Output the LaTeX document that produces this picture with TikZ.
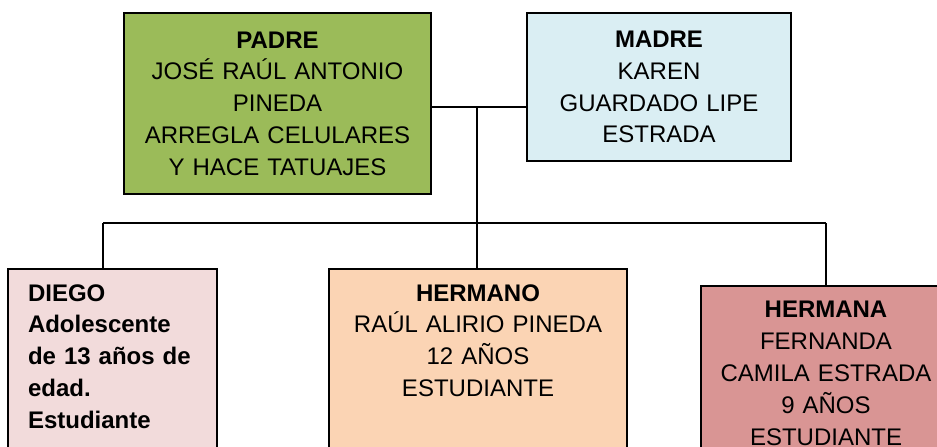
\documentclass[tikz,border=0pt]{standalone}
\usepackage{fontspec}
\setmainfont{Liberation Sans}
\usetikzlibrary{positioning}
\definecolor{verdepadre}{HTML}{9BBB59}
\definecolor{azulmadre}{HTML}{DAEEF3}
\definecolor{rosadiego}{HTML}{F2DBDB}
\definecolor{melocoton}{HTML}{FBD4B4}
\definecolor{rosaoscuro}{HTML}{D99594}
\begin{document}
\begin{tikzpicture}[x=0.5pt, y=-0.5pt,
    caja/.style={draw=black, line width=0.8pt, inner xsep=0pt,
      font=\fontsize{12}{15.9}\selectfont},
    hijo/.style={caja, anchor=north, inner ysep=7.8pt, text depth=120pt},
    linea/.style={line width=0.8pt, black}]
  \useasboundingbox (0,0) rectangle (937,446);
  \clip (0,0) rectangle (937,446);
  \node[caja, fill=verdepadre, align=center, text width=153.5pt, minimum height=90.5pt] (padre) at (277.5,103.5)
    {\textbf{PADRE}\\JOSÉ RAÚL ANTONIO\\PINEDA\\ARREGLA CELULARES\\Y HACE TATUAJES};
  \node[caja, fill=azulmadre, align=center, text width=132pt, minimum height=74pt] (madre) at (659,87)
    {\textbf{MADRE}\\KAREN\\GUARDADO LIPE\\ESTRADA};
  \node[hijo, fill=rosadiego, align=left, inner xsep=10pt, text width=84.5pt] (diego) at (112.5,268)
    {\textbf{DIEGO}\\\textbf{Adolescente}\\\textbf{de 13 años de}\\\textbf{edad.}\\\textbf{Estudiante}};
  \node[hijo, fill=melocoton, align=center, text width=149pt] (hermano) at (478,268)
    {\textbf{HERMANO}\\RAÚL ALIRIO PINEDA\\12 AÑOS\\ESTUDIANTE};
  \node[hijo, fill=rosaoscuro, align=center, text width=125pt] (hermana) at (826,285)
    {\textbf{HERMANA}\\FERNANDA\\CAMILA ESTRADA\\9 AÑOS\\ESTUDIANTE};
  \coordinate (union) at (477,107);
  \coordinate (izq) at (103,223);
  \coordinate (der) at (826,223);
  \draw[linea] (padre.east |- union) -- (madre.west |- union);
  \draw[linea] (union) -- (union |- hermano.north);
  \draw[linea] (izq) -- (der);
  \draw[linea] (izq) -- (izq |- diego.north);
  \draw[linea] (der) -- (hermana.north);
\end{tikzpicture}
\end{document}
